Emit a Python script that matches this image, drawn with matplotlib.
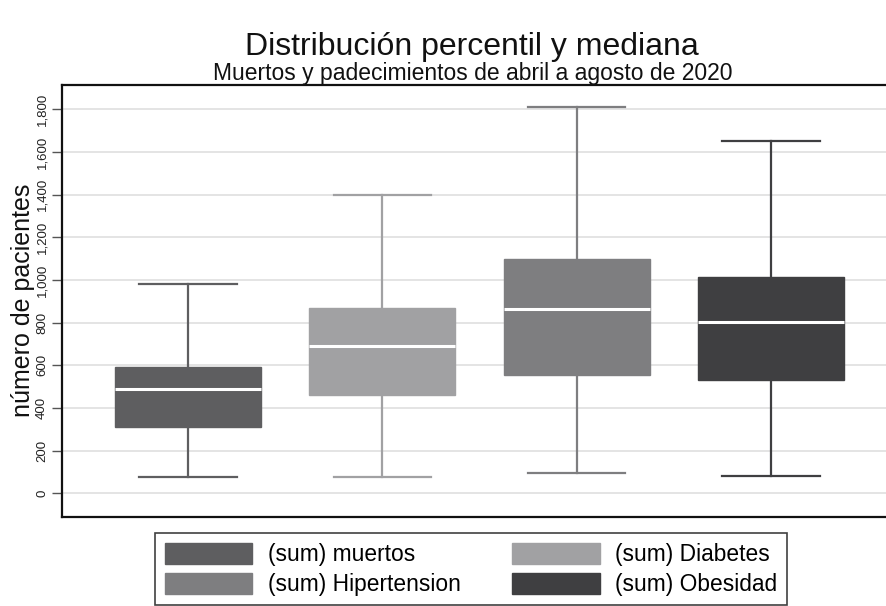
import matplotlib
matplotlib.use("Agg")
import matplotlib.pyplot as plt
from matplotlib.patches import Patch
from matplotlib.ticker import FuncFormatter

plt.rcParams['font.family'] = ['Liberation Sans', 'DejaVu Sans']

series = ["(sum) muertos", "(sum) Diabetes", "(sum) Hipertension", "(sum) Obesidad"]
whisker_low = [78, 78, 95, 80]
q1 = [312, 461, 555, 531]
median = [490, 690, 862, 804]
q3 = [593, 867, 1098, 1012]
whisker_high = [981, 1400, 1809, 1651]
colors = ["#5e5e60", "#a1a1a3", "#7e7e80", "#3f3f41"]
yticks = [0, 200, 400, 600, 800, 1000, 1200, 1400, 1600, 1800]

W, H = 887, 606
fig = plt.figure(figsize=(W / 100, H / 100), dpi=100)
ax = fig.add_axes([62 / W, 1 - 516.7 / H, (897 - 62) / W, (516.7 - 84.5) / H])

positions = list(range(1, len(series) + 1))
for i, pos in enumerate(positions):
    st = [dict(med=median[i], q1=q1[i], q3=q3[i], whislo=whisker_low[i],
               whishi=whisker_high[i], fliers=[])]
    c = colors[i]
    ax.bxp(st, positions=[pos], widths=0.75, patch_artist=True, showfliers=False,
           boxprops=dict(facecolor=c, edgecolor=c, linewidth=1),
           whiskerprops=dict(color=c, linewidth=1.6),
           capprops=dict(color=c, linewidth=1.6),
           medianprops=dict(color="white", linewidth=2.2),
           capwidths=0.5, zorder=3)

ax.set_xlim(0.352, 4.648)
ax.set_ylim(-110, 1916)
ax.set_xticks([])
ax.set_yticks(yticks)
ax.yaxis.set_major_formatter(FuncFormatter(lambda v, p: f"{int(v):,}"))
ax.tick_params(axis='y', direction='out', length=7, width=1, color="#555555",
               labelrotation=90, labelsize=9.5, pad=3, labelcolor="#222222")
for lbl in ax.get_yticklabels():
    lbl.set_verticalalignment('center')
ax.grid(axis='y', color="#e2e2e2", linewidth=1.3, zorder=0)
ax.set_axisbelow(True)
for s in ["left", "bottom", "top"]:
    ax.spines[s].set_linewidth(1.6)
    ax.spines[s].set_color("#111111")
ax.spines["right"].set_visible(False)

ax.set_ylabel("número de pacientes", fontsize=18, labelpad=1, color="#111111")

fig.text(472 / W, 1 - 55 / H, "Distribución percentil y mediana", ha="center",
         va="baseline", fontsize=23, color="#111111")
fig.text(473 / W, 1 - 80 / H, "Muertos y padecimientos de abril a agosto de 2020",
         ha="center", va="baseline", fontsize=16.5, color="#111111")

# row-wise legend order (matplotlib fills columns first)
order = [0, 2, 1, 3]
handles = [Patch(facecolor=colors[k], edgecolor=colors[k]) for k in order]
labels = [series[k] for k in order]
leg = fig.legend(handles, labels, ncol=2, loc="upper left",
                 bbox_to_anchor=(155 / W, 1 - 533 / H), frameon=True, fancybox=False,
                 edgecolor="#111111", fontsize=16.4,
                 handlelength=3.86, handleheight=1.05, handletextpad=0.66,
                 columnspacing=2.28, labelspacing=0.29, borderpad=0.42,
                 borderaxespad=0)
leg.get_frame().set_linewidth(1.2)

fig.savefig("out.png", dpi=100)
